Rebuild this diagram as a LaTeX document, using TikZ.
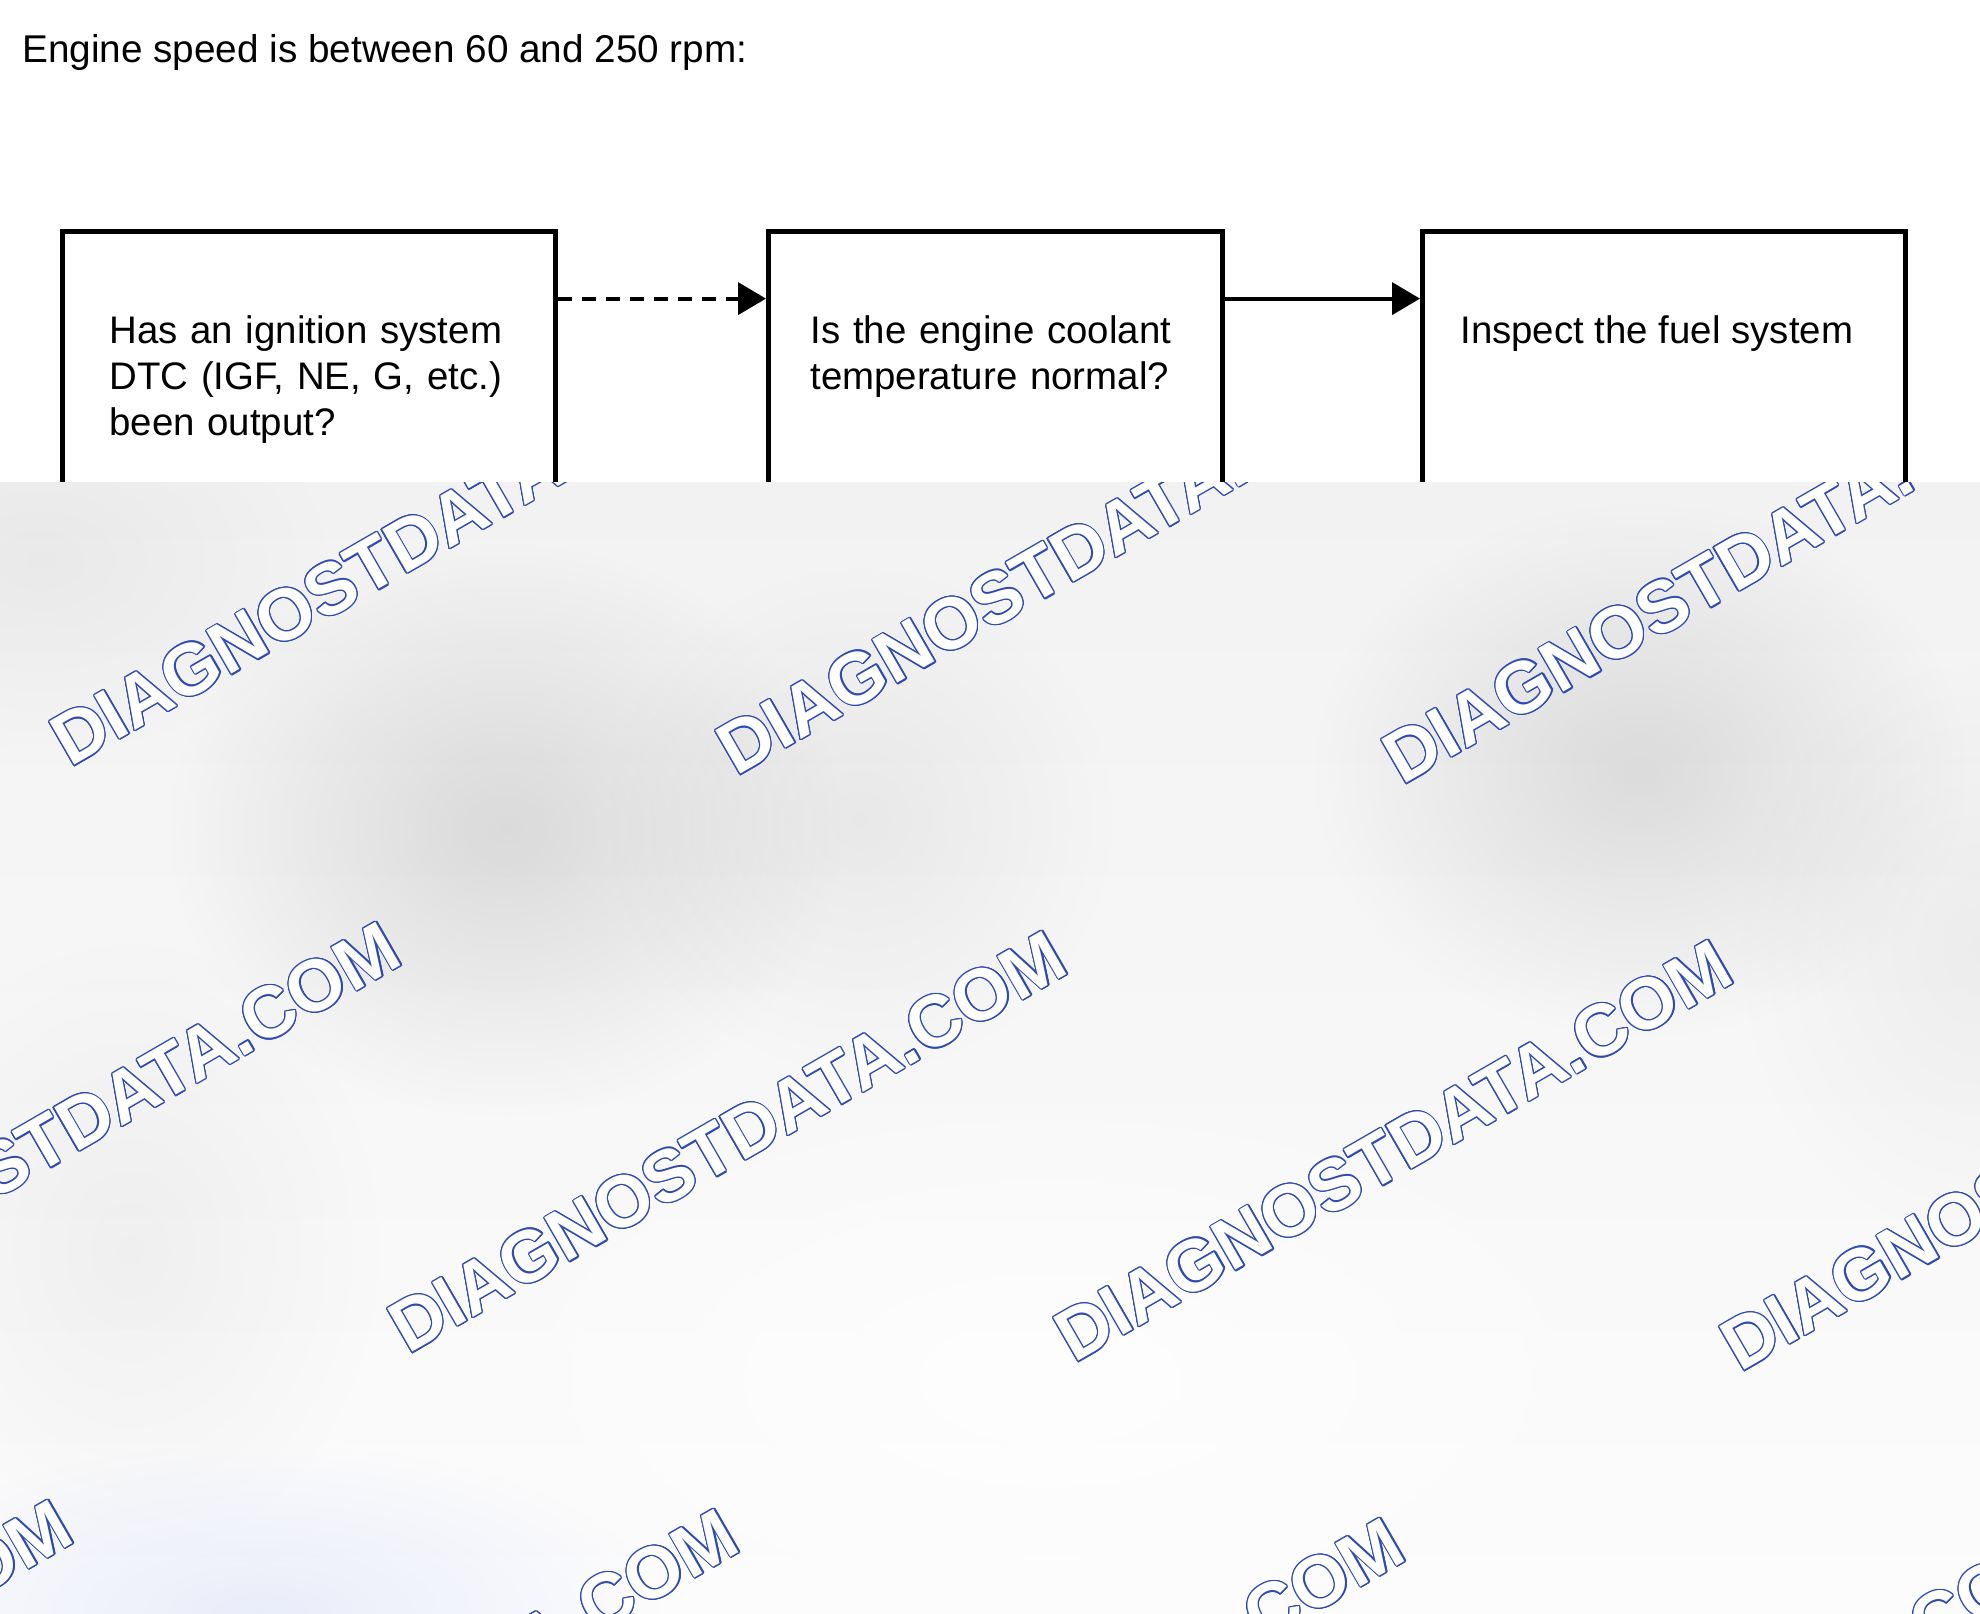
\documentclass[tikz,border=0pt]{standalone}
\usepackage{fontspec}
\setmainfont{Liberation Sans}
\usetikzlibrary{arrows.meta,fadings,calc}
\definecolor{wmblue}{RGB}{45,75,180}
\definecolor{ovtop}{RGB}{242,242,242}
\definecolor{ovbot}{RGB}{252,252,253}
\definecolor{blobblue}{RGB}{200,210,245}
\tikzfading[name=softblob, inner color=transparent!0, outer color=transparent!100]
\newcommand\wmtxt{DIAGNOSTDATA.COM}
\newcommand\wmo[2]{\rlap{\kern#1\raisebox{#2}{\textcolor{wmblue}{\wmtxt}}}}
\newcommand\wmbox{%
\wmo{0.62pt}{0pt}\wmo{-0.62pt}{0pt}\wmo{0pt}{0.62pt}\wmo{0pt}{-0.62pt}%
\wmo{0.44pt}{0.44pt}\wmo{-0.44pt}{0.44pt}\wmo{0.44pt}{-0.44pt}\wmo{-0.44pt}{-0.44pt}%
\wmo{0.573pt}{0.237pt}\wmo{-0.573pt}{0.237pt}\wmo{0.573pt}{-0.237pt}\wmo{-0.573pt}{-0.237pt}%
\wmo{0.237pt}{0.573pt}\wmo{-0.237pt}{0.573pt}\wmo{0.237pt}{-0.573pt}\wmo{-0.237pt}{-0.573pt}%
\textcolor{white}{\wmtxt}}
\tikzset{
  boxnode/.style={draw=black, line width=2.5pt, rectangle, anchor=north west, inner sep=0pt, minimum height=200pt},
  txt/.style={anchor=base west, inner sep=0pt, align=left, font=\fontsize{19.2}{23}\selectfont},
  conn/.style={line width=2pt, -{Triangle[length=14pt,width=16pt]}},
  dashconn/.style={conn, dash pattern=on 7pt off 5pt},
  wm/.style={anchor=base west, rotate=30, inner sep=0pt, font=\fontsize{36.4}{40}\selectfont\bfseries},
}
\begin{document}
\begin{tikzpicture}[x=0.5pt,y=-0.5pt]
\useasboundingbox[fill=white] (0,0) rectangle (1980,1613);
% title
\node[txt, font=\fontsize{19.35}{23}\selectfont] (title) at (22,62) {Engine speed is between 60 and 250 rpm:};
% boxes
\node[boxnode, minimum width=246.5pt] (b1) at (60,229) {};
\node[boxnode, minimum width=227pt] (b2) at (766,229) {};
\node[boxnode, minimum width=241.5pt] (b3) at (1420,229) {};
% box texts
\node[txt, text width=240pt] (t1) at (109,343) {Has an ignition system\\DTC (IGF, NE, G, etc.)\\been output?};
\node[txt, text width=220pt] (t2) at (810,343) {Is the engine coolant\\temperature normal?};
\node[txt] (t3) at (1460,343) {Inspect the fuel system};
% connectors
\draw[dashconn] ([yshift=-34.8pt]b1.north east) -- ([yshift=-34.8pt]b2.north west);
\draw[conn] ([yshift=-34.8pt]b2.north east) -- ([yshift=-34.8pt]b3.north west);
% grey overlay
\fill[top color=ovtop, bottom color=ovbot] (0,482) rectangle (1980,1613);
\begin{scope}
\clip (0,482) rectangle (1980,1613);
\fill[black, opacity=0.11, path fading=softblob] (505,830) ellipse [x radius=340, y radius=290];
\fill[black, opacity=0.10, path fading=softblob] (1640,770) ellipse [x radius=330, y radius=270];
\fill[black, opacity=0.05, path fading=softblob] (860,820) ellipse [x radius=260, y radius=260];
\fill[black, opacity=0.04, path fading=softblob] (130,1250) ellipse [x radius=260, y radius=320];
\fill[black, opacity=0.04, path fading=softblob] (40,560) ellipse [x radius=300, y radius=200];
\fill[black, opacity=0.04, path fading=softblob] (1980,950) ellipse [x radius=250, y radius=300];
\fill[white, opacity=0.75, path fading=softblob] (1050,1380) ellipse [x radius=650, y radius=320];
\fill[blobblue, opacity=0.35, path fading=softblob] (260,1613) ellipse [x radius=400, y radius=170];
\foreach \px/\py [count=\k] in {70/768, 736/777, 1402/786,
    -258/1346, 408/1355, 1074/1364, 1740/1373,
    -586/1924, 80/1933, 746/1942, 1412/1951}
  \node[wm] (wm\k) at (\px,\py) {\wmbox};
\end{scope}
\end{tikzpicture}
\end{document}
